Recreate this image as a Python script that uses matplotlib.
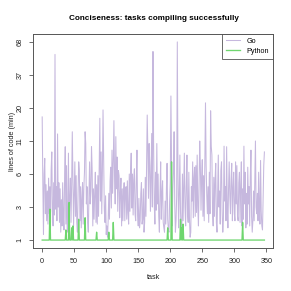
import numpy as np
import matplotlib.pyplot as plt

# y axis tick labels (lines of code, min), evenly spaced on the axis
tick_labels = [1, 3, 6, 11, 20, 37, 68]
x_ticks = [0, 50, 100, 150, 200, 250, 300, 350]

# Go: lines of code per task (tasks 0..347)
go_loc = [
    17, 5, 1.2, 6, 8, 2.4, 4.8, 1.9, 4.2, 1.7, 5.5, 2.4,
    4.6, 1.8, 6.5, 9.0, 2.6, 1.6, 5.0, 2.3, 54, 2.8, 4.6, 1.9,
    12.5, 3.0, 5.0, 1.8, 4.4, 1.3, 3.5, 1.6, 5.0, 2.2, 1.4, 5.5,
    9.9, 1.7, 7.0, 1.3, 1.5, 8.8, 1.2, 3.6, 5.5, 1.8, 4.8, 13,
    5.0, 1.6, 4.2, 7.5, 2.2, 5.8, 1.8, 1.3, 4.0, 7.5, 6.4, 1.9,
    4.6, 1.5, 3.5, 5.0, 1.7, 4.4, 6.2, 13, 10.5, 3.2, 4.6, 1.8,
    1.3, 3.8, 7.5, 3.2, 4.2, 9.9, 6.5, 1.6, 4.4, 2.0, 4.0, 6.2,
    1.8, 4.8, 1.7, 5.8, 2.2, 7.3, 16.6, 3.4, 9.0, 2.4, 6.2, 19.3,
    7.3, 2.8, 1.8, 3.8, 1.2, 1.6, 1.1, 1.9, 4.0, 2.0, 5.2, 6.8,
    2.9, 9.3, 4.0, 7.5, 15.9, 6.0, 3.2, 11.9, 4.4, 8.2, 2.6, 6.4,
    5.8, 2.1, 4.0, 5.5, 1.6, 4.4, 1.9, 4.0, 5.0, 1.9, 4.2, 4.6,
    2.0, 5.2, 2.5, 1.7, 6.0, 2.6, 6.2, 8.8, 2.9, 6.0, 2.3, 5.3,
    6.6, 2.4, 1.9, 5.4, 9.3, 2.3, 1.6, 3.6, 1.5, 1.9, 4.0, 5.0,
    1.7, 2.0, 4.4, 1.3, 1.8, 5.6, 2.2, 7.3, 17.6, 9.3, 3.6, 10.5,
    7.0, 2.6, 6.2, 12.6, 3.0, 57, 9.9, 3.2, 1.7, 6.2, 2.7, 10.5,
    3.2, 6.0, 2.2, 1.3, 4.0, 7.5, 2.0, 4.0, 5.2, 1.8, 1.5, 1.3,
    3.4, 1.7, 4.4, 7.3, 2.0, 1.4, 1.3, 3.4, 5.0, 25, 7.0, 1.6,
    4.4, 6.2, 13, 3.2, 1.3, 1.9, 3.8, 68, 6.2, 1.5, 3.8, 8.5,
    2.5, 1.3, 1.4, 6.0, 1.9, 4.8, 8.8, 3.0, 1.6, 4.6, 8.5, 2.4,
    1.8, 6.2, 2.0, 1.1, 1.3, 4.6, 3.4, 7.5, 2.1, 5.5, 6.8, 2.2,
    7.0, 2.5, 8.5, 3.0, 1.6, 4.8, 11, 7.0, 2.7, 5.6, 7.8, 2.2,
    5.8, 1.9, 8.2, 22, 7.0, 3.8, 2.4, 4.6, 1.8, 6.2, 2.4, 19,
    10, 8.5, 2.6, 1.6, 5.6, 2.2, 5.4, 7.3, 1.8, 1.3, 3.8, 8.5,
    3.0, 4.2, 1.7, 6.4, 7.5, 2.6, 1.3, 2.0, 10, 3.4, 4.6, 1.9,
    9.9, 3.0, 1.5, 4.4, 7.5, 3.8, 2.4, 5.5, 7.3, 1.9, 4.4, 6.2,
    2.4, 1.9, 7.5, 3.2, 7.0, 2.2, 1.9, 5.0, 6.2, 1.8, 4.6, 7.5,
    1.6, 4.4, 2.0, 10, 3.2, 6.2, 1.5, 4.0, 1.7, 6.8, 3.2, 4.6,
    1.6, 5.8, 9.3, 2.2, 1.3, 1.9, 4.2, 1.9, 5.4, 11, 3.0, 2.4,
    4.0, 1.9, 6.2, 3.0, 1.7, 7.7, 2.6, 1.6, 1.4, 3.8, 7.0, 9.0,
]

# Python: 1 line for most tasks, these are the exceptions
py_spike_tasks = [12, 37, 42, 46, 48, 57, 67, 85, 104, 111, 196, 202, 216, 218, 220, 313]
py_spike_loc = [2.8, 1.4, 3.3, 1.5, 1.6, 2.0, 2.1, 1.3, 1.3, 1.8, 1.5, 7.5, 2.0, 1.5, 1.7, 1.8]

tasks = np.arange(len(go_loc))
py_loc = np.ones(len(go_loc))
py_loc[py_spike_tasks] = py_spike_loc

# axis scale: ticks are evenly spaced, log-interpolated in between
lt = np.log(tick_labels)
pos = np.arange(len(tick_labels))


def fwd(v):
    lv = np.log(np.maximum(v, 1e-6))
    p = np.interp(lv, lt, pos)
    p = np.where(lv < lt[0], (lv - lt[0]) / (lt[1] - lt[0]), p)
    p = np.where(lv > lt[-1], pos[-1] + (lv - lt[-1]) / (lt[-1] - lt[-2]), p)
    return p


def inv(p):
    p = np.asarray(p, dtype=float)
    lv = np.interp(p, pos, lt)
    lv = np.where(p < 0, lt[0] + p * (lt[1] - lt[0]), lv)
    lv = np.where(p > pos[-1], lt[-1] + (p - pos[-1]) * (lt[-1] - lt[-2]), lv)
    return np.exp(lv)


plt.rcParams['font.family'] = ['Liberation Sans', 'DejaVu Sans']

fig = plt.figure(figsize=(2.91, 2.91), dpi=100)
ax = fig.add_axes([0.1144, 0.1478, 0.8248, 0.7354])

ax.plot(tasks, go_loc, color='#c6b8de', lw=0.75, label='Go')
ax.plot(tasks, py_loc, color='#6fd66f', lw=0.95, label='Python')

ax.set_yscale('function', functions=(fwd, inv))
ax.set_ylim(inv(-0.24), inv(6.24))
ax.set_xlim(-13.9, 360.9)
ax.set_yticks(tick_labels)
ax.set_yticklabels([str(t) for t in tick_labels], rotation=90, va='center')
ax.yaxis.set_minor_locator(plt.NullLocator())
ax.set_xticks(x_ticks)

for s in ax.spines.values():
    s.set_color('#555555')
    s.set_linewidth(0.7)
ax.tick_params(length=3, width=0.6, color='#555555', labelsize=5.2,
               labelcolor='#222222', pad=4)

fig.text(0.53, 1 - 18 / 291, 'Conciseness: tasks compiling successfully',
         ha='center', va='center', fontsize=5.9, fontweight='bold')
fig.text(0.527, 1 - 277.5 / 291, 'task', ha='center', va='center', fontsize=5.2,
         color='#222222')
fig.text(13 / 291, 1 - 141 / 291, 'lines of code (min)', ha='center', va='center',
         rotation=90, fontsize=5.2, color='#222222')

leg = ax.legend(loc='upper right', fontsize=5.2, frameon=True, fancybox=False,
                borderaxespad=0, handlelength=1.9, handletextpad=1.0,
                labelspacing=0.35, borderpad=0.55)
leg.get_frame().set_edgecolor('#444444')
leg.get_frame().set_linewidth(0.7)

fig.savefig('out.png', dpi=100)
